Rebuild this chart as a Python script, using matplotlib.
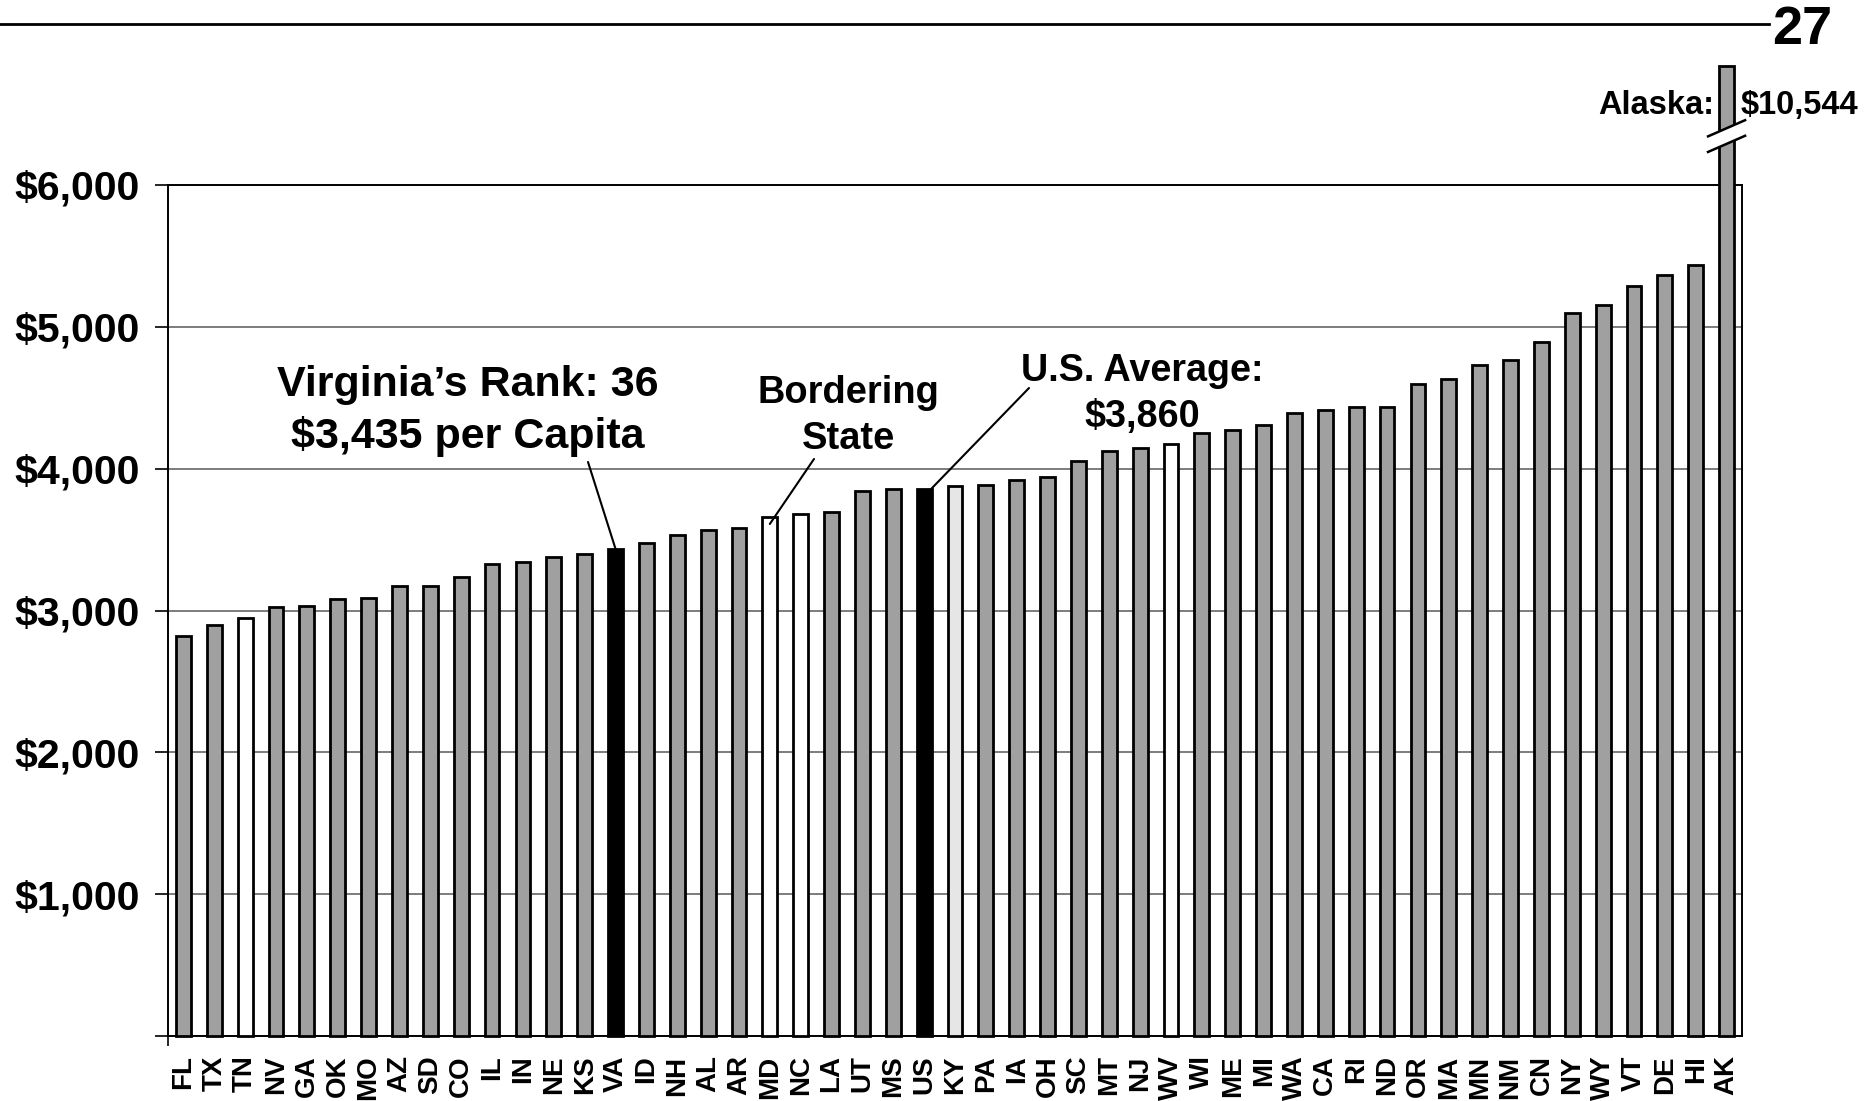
import matplotlib
matplotlib.use("Agg")
import matplotlib.pyplot as plt
from matplotlib.lines import Line2D
from matplotlib.patches import Polygon

plt.rcParams['font.family'] = ['Liberation Sans', 'DejaVu Sans']

states = ["FL", "TX", "TN", "NV", "GA", "OK", "MO", "AZ", "SD", "CO", "IL", "IN", "NE",
          "KS", "VA", "ID", "NH", "AL", "AR", "MD", "NC", "LA", "UT", "MS", "US", "KY",
          "PA", "IA", "OH", "SC", "MT", "NJ", "WV", "WI", "ME", "MI", "WA", "CA", "RI",
          "ND", "OR", "MA", "MN", "NM", "CN", "NY", "WY", "VT", "DE", "HI", "AK"]
values = [2820, 2895, 2945, 3025, 3030, 3080, 3085, 3170, 3175, 3235, 3325, 3340, 3380,
          3400, 3435, 3475, 3530, 3565, 3580, 3660, 3678, 3695, 3845, 3855, 3860, 3880,
          3882, 3922, 3940, 4052, 4128, 4145, 4175, 4250, 4270, 4305, 4395, 4415, 4433,
          4435, 4600, 4635, 4728, 4768, 4895, 5100, 5155, 5290, 5362, 5438, 10544]
highlight = ["VA", "US"]
bordering = ["TN", "MD", "NC", "WV"]
light = ["KY"]
y_ticks = [0, 1000, 2000, 3000, 4000, 5000, 6000]
y_tick_labels = ["", "$1,000", "$2,000", "$3,000", "$4,000", "$5,000", "$6,000"]

GRAY = "#a0a0a0"
W, H = 1868, 1101
fig = plt.figure(figsize=(W / 100, H / 100), dpi=100)
ax = fig.add_axes([168 / W, (H - 1036) / H, 1574 / W, (1036 - 185) / H])

ymax = 6000
cap = 6840  # visual height of broken (off-scale) bar
colors = []
for s in states:
    if s in highlight:
        colors.append("black")
    elif s in bordering:
        colors.append("white")
    elif s in light:
        colors.append("#e6e6e6")
    else:
        colors.append(GRAY)

heights = [min(v, cap) for v in values]
bw = 0.48
x = list(range(len(states)))
bars = ax.bar(x, heights, width=bw, color=colors, edgecolor="black", linewidth=2.0,
              zorder=3, clip_on=False)

ax.set_xlim(-0.5, len(states) - 0.5)
ax.set_ylim(0, ymax)

ax.set_yticks(y_ticks)
ax.set_yticklabels(y_tick_labels, fontsize=29.5, fontweight="bold")
ax.tick_params(axis="y", length=9.5, width=1.2, pad=11, direction="out")
ax.yaxis.grid(True, color="#666666", linewidth=1.2, zorder=0)
ax.set_axisbelow(True)

ax.set_xticks(x)
ax.set_xticklabels(states, rotation=90, fontsize=20, fontweight="bold", va="top", ha="center")
ax.tick_params(axis="x", length=0, pad=14)
ax.set_xticks([-0.5], minor=True)
ax.tick_params(axis="x", which="minor", length=7, width=1.2)

for sp in ax.spines.values():
    sp.set_linewidth(1.4)
    sp.set_color("black")

# Break marks on the off-scale bar
i_ak = states.index("AK")
brk = 6345
dx = 0.6
slope = 95  # data units per x unit of the slash
gap = 55
poly = Polygon([[i_ak - dx, brk - slope * dx - gap], [i_ak + dx, brk + slope * dx - gap],
                [i_ak + dx, brk + slope * dx + gap], [i_ak - dx, brk - slope * dx + gap]],
               closed=True, facecolor="white", edgecolor="none", zorder=5, clip_on=False)
ax.add_patch(poly)
for off in (-gap, gap):
    ax.add_line(Line2D([i_ak - dx, i_ak + dx], [brk - slope * dx + off, brk + slope * dx + off],
                       color="black", linewidth=1.8, zorder=6, clip_on=False))

# Alaska label
ax.text(i_ak - 0.4, 6560, "Alaska:", ha="right", va="center", fontsize=23.5, fontweight="bold")
ax.text(i_ak + 0.45, 6560, "$" + f"{values[i_ak]:,}", ha="left", va="center", fontsize=23.5,
        fontweight="bold")

def fx(px):
    return px / W

def fy(py):
    return 1 - py / H

# Virginia annotation
i_va = states.index("VA")
fig.text(fx(468), fy(411), "Virginia\u2019s Rank: 36\n$3,435 per Capita", ha="center", va="center",
         fontsize=31, fontweight="bold", linespacing=1.36)
ax.annotate("", xy=(i_va, values[i_va]), xycoords="data", xytext=(fx(588), fy(462)),
            textcoords="figure fraction",
            arrowprops=dict(arrowstyle="-", lw=1.5, color="black", shrinkA=0, shrinkB=0))

# Bordering state annotation
i_md = states.index("MD")
fig.text(fx(848), fy(416), "Bordering\nState", ha="center", va="center",
         fontsize=27.4, fontweight="bold", linespacing=1.38)
ax.annotate("", xy=(i_md, values[i_md] - 50), xycoords="data", xytext=(fx(814), fy(459)),
            textcoords="figure fraction",
            arrowprops=dict(arrowstyle="-", lw=1.5, color="black", shrinkA=0, shrinkB=0))

# US average annotation
i_us = states.index("US")
fig.text(fx(1142), fy(394), "U.S. Average:\n$3,860", ha="center", va="center",
         fontsize=27.2, fontweight="bold", linespacing=1.38)
ax.annotate("", xy=(i_us + bw / 2, values[i_us]), xycoords="data", xytext=(fx(1029), fy(388)),
            textcoords="figure fraction",
            arrowprops=dict(arrowstyle="-", lw=1.5, color="black", shrinkA=0, shrinkB=0))

# Page header rule and number
fig.add_artist(Line2D([0, 1769 / W], [fy(24), fy(24)], color="black", linewidth=2))
fig.text(fx(1802), fy(30), "27", ha="center", va="center", fontsize=39, fontweight="bold")

fig.savefig("out.png", dpi=100)
